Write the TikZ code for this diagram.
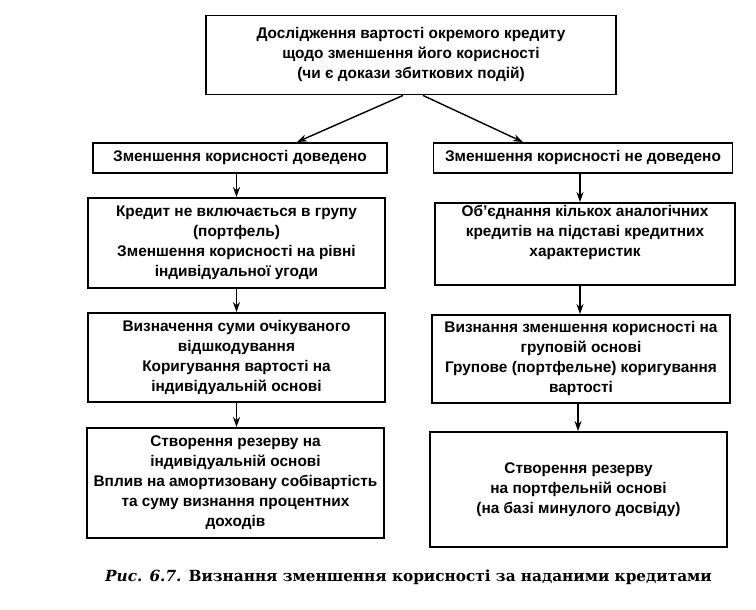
\documentclass[tikz,border=0pt]{standalone}
\usepackage{fontspec}
\setmainfont{DejaVu Serif}
\setsansfont{Liberation Sans}
\usetikzlibrary{arrows.meta,positioning}

\begin{document}
\begin{tikzpicture}[x=1pt,y=-1pt,>={Stealth[length=10pt,width=7pt]},
    font=\sffamily\bfseries\fontsize{15.4}{20}\selectfont]
    \tikzset{box/.style={draw,line width=1.9pt,align=center,inner sep=2pt},
      flow/.style={->,line width=1.4pt}}
    \useasboundingbox (0,0) rectangle (756,610);
    \node[box,minimum width=410pt,minimum height=79pt] (top) at (411,55)
      {Дослідження вартості окремого кредиту\\щодо зменшення його корисності\\(чи є докази збиткових подій)};
    % two branches
    \node[box,minimum width=294pt,minimum height=30pt] (proved) at (240,158) {Зменшення корисності доведено};
    \node[box,minimum width=299pt,minimum height=30pt] (notproved) at (583,158) {Зменшення корисності не доведено};
    \draw[flow] ([xshift=-8pt]top.south)--([xshift=57pt]proved.north);
    \draw[flow] ([xshift=12pt]top.south)--([xshift=-60pt]notproved.north);
    % left column
    \node[box,minimum width=297pt,minimum height=90pt] (indiv) at (236.5,243)
      {Кредит не включається в групу\\(портфель)\\Зменшення корисності на рівні\\індивідуальної угоди};
    \node[box,minimum width=297pt,minimum height=89pt] (refund) at (236.5,357.5)
      {Визначення суми очікуваного\\відшкодування\\Коригування вартості на\\індивідуальній основі};
    \node[box,minimum width=297pt,minimum height=110pt] (resind) at (235.5,483)
      {Створення резерву на\\індивідуальній основі\\Вплив на амортизовану собівартість\\та суму визнання процентних\\доходів};
    \draw[flow] (proved.south -| indiv.north)--(indiv.north);
    \draw[flow] (indiv.south)--(indiv.south |- refund.north);
    \draw[flow] (refund.south)--(refund.south |- resind.north);
    % right column
    \node[box,minimum width=300pt,minimum height=82pt] (group) at (585,244)
      {Об'єднання кількох аналогічних\\кредитів на підставі кредитних\\характеристик\\\strut};
    \node[box,minimum width=298pt,minimum height=88pt] (recog) at (581,359)
      {Визнання зменшення корисності на\\груповій основі\\Групове (портфельне) коригування\\вартості};
    \node[box,minimum width=297pt,minimum height=115pt] (resport) at (578.5,489.5)
      {Створення резерву\\на портфельній основі\\(на базі минулого досвіду)};
    \draw[flow] (notproved.south -| 580,0)--(group.north -| 580,0);
    \draw[flow] (group.south -| 580,0)--(recog.north -| 580,0);
    \draw[flow] (recog.south -| 578,0)--(resport.north -| 578,0);
    \node[font=\rmfamily\bfseries\fontsize{15.3}{18}\selectfont] (caption) at (408.5,577)
      {\textit{Рис. 6.7.} Визнання зменшення корисності за наданими кредитами};
  \end{tikzpicture}
\end{document}
